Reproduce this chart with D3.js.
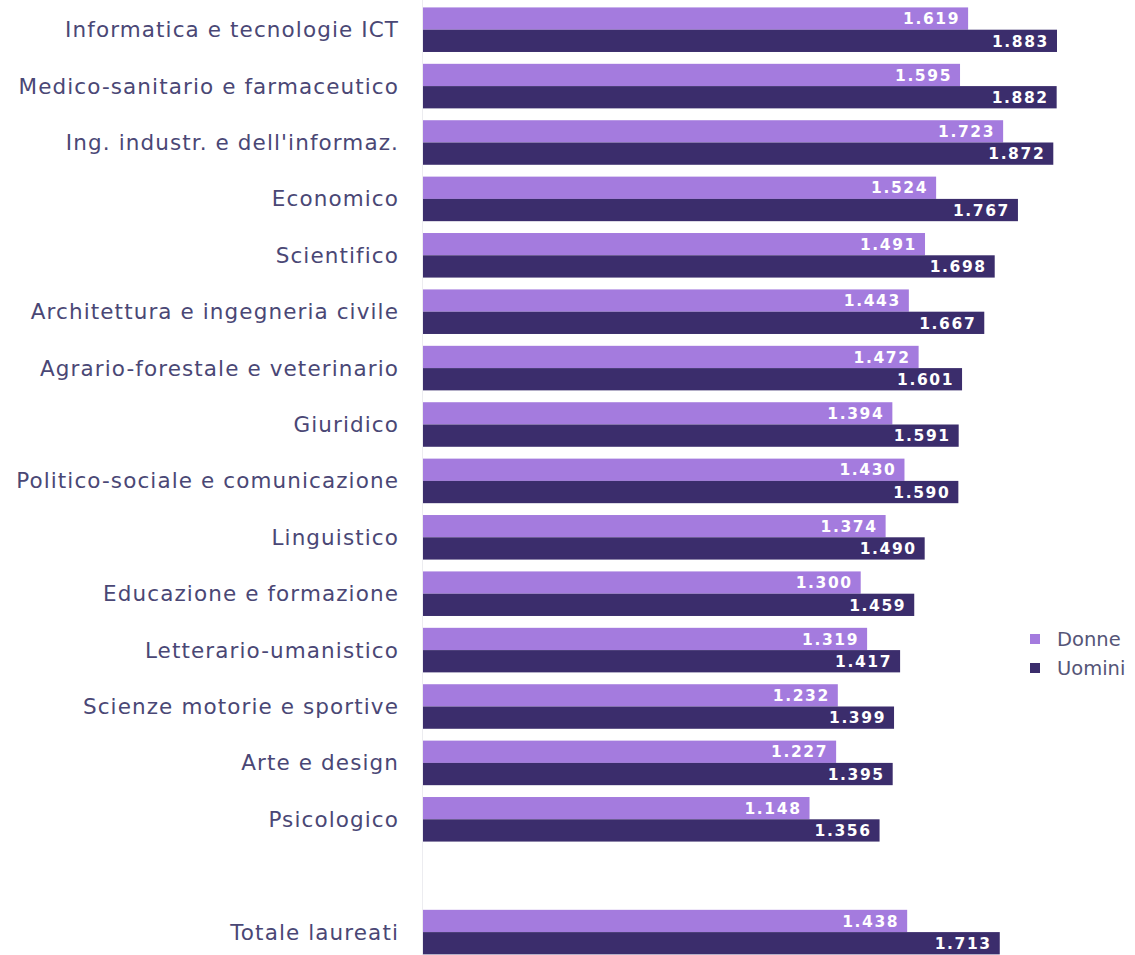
<!DOCTYPE html>
<html>
<head>
<meta charset="utf-8">
<script src="https://cdn.jsdelivr.net/npm/d3@7"></script>
<style>
  body { margin: 0; background: #ffffff; }
  svg { display: block; }
</style>
</head>
<body>
<div id="chart"></div>
<script>
'use strict';

const categories = [
    "Informatica e tecnologie ICT",
    "Medico-sanitario e farmaceutico",
    "Ing. industr. e dell'informaz.",
    "Economico",
    "Scientifico",
    "Architettura e ingegneria civile",
    "Agrario-forestale e veterinario",
    "Giuridico",
    "Politico-sociale e comunicazione",
    "Linguistico",
    "Educazione e formazione",
    "Letterario-umanistico",
    "Scienze motorie e sportive",
    "Arte e design",
    "Psicologico",
    "",
    "Totale laureati"
];
const donne = [1619, 1595, 1723, 1524, 1491, 1443, 1472, 1394, 1430, 1374, 1300, 1319, 1232, 1227, 1148, null, 1438];
const uomini = [1883, 1882, 1872, 1767, 1698, 1667, 1601, 1591, 1590, 1490, 1459, 1417, 1399, 1395, 1356, null, 1713];
const seriesNames = ["Donne", "Uomini"];
const seriesColors = ["#a47bde", "#3b2d6c"];

const width = 1135, height = 955;

const svg = d3.select("#chart").append("svg")
    .attr("width", width)
    .attr("height", height);

const x = d3.scaleLinear()
    .domain([0, 2000])
    .range([423, 423 + 2000 * 634 / 1883]);

const y = d3.scaleBand()
    .domain(d3.range(categories.length))
    .range([1.5, 960.3])
    .paddingInner(0.21)
    .paddingOuter(0.105);

const half = y.bandwidth() / 2;
const fmt = v => d3.format(",")(v).replace(/,/g, ".");

// baseline
svg.append("line")
    .attr("x1", x(0) - 0.5).attr("x2", x(0) - 0.5)
    .attr("y1", 0).attr("y2", height)
    .style("stroke", "#ececf0");

// category labels
svg.append("g")
    .selectAll("text")
    .data(categories)
    .join("text")
        .attr("x", 399)
        .attr("y", (d, i) => y(i) + half)
        .attr("dy", "0.35em")
        .attr("text-anchor", "end")
        .style("font-family", "'DejaVu Sans'")
        .style("font-size", "21.5px")
        .style("letter-spacing", "1.1px")
        .style("fill", "#4a4775")
        .text(d => d);

const rows = [donne, uomini];
rows.forEach((vals, s) => {
    const g = svg.append("g");
    const data = vals.map((v, i) => ({v: v, i: i})).filter(d => d.v !== null);
    g.selectAll("rect")
        .data(data)
        .join("rect")
            .attr("x", x(0))
            .attr("y", d => y(d.i) + s * half)
            .attr("width", d => x(d.v) - x(0))
            .attr("height", half)
            .style("fill", seriesColors[s]);
    g.selectAll("text")
        .data(data)
        .join("text")
            .attr("x", d => x(d.v) - 8)
            .attr("y", d => y(d.i) + s * half + half / 2)
            .attr("dy", "0.37em")
            .attr("text-anchor", "end")
            .style("font-family", "'DejaVu Sans'")
            .style("font-weight", "bold")
            .style("font-size", "15.5px")
            .style("letter-spacing", "1.6px")
            .style("fill", "#ffffff")
            .text(d => fmt(d.v));
});

// legend
const legend = svg.append("g")
    .selectAll("g")
    .data(seriesNames)
    .join("g")
        .attr("transform", (d, i) => `translate(1030, ${639 + i * 29})`);
legend.append("rect")
    .attr("x", 0).attr("y", -5)
    .attr("width", 10).attr("height", 10)
    .style("fill", (d, i) => seriesColors[i]);
legend.append("text")
    .attr("x", 27)
    .attr("dy", "0.35em")
    .style("font-family", "'DejaVu Sans'")
    .style("font-size", "19.5px")
    .style("fill", "#555577")
    .text(d => d);
</script>
</body>
</html>
